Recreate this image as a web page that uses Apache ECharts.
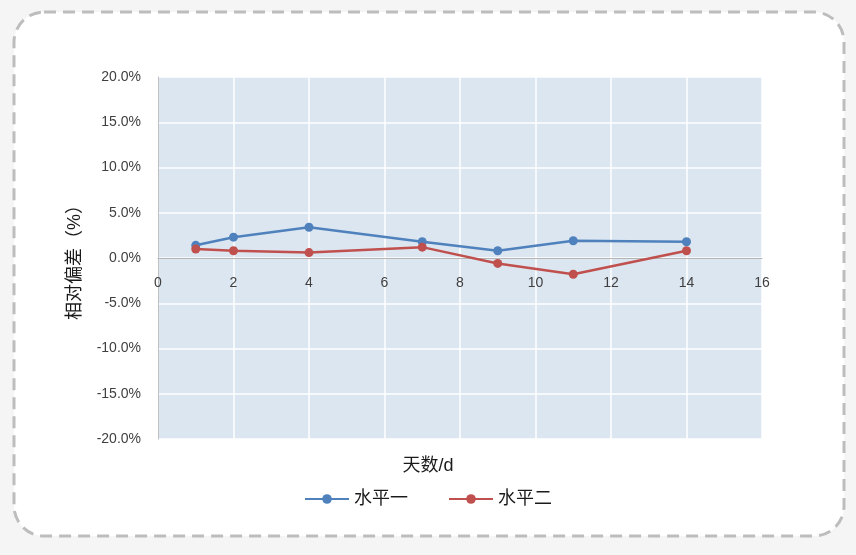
<!DOCTYPE html>
<html><head><meta charset="utf-8">
<script src="https://cdn.jsdelivr.net/npm/echarts@6/dist/echarts.min.js"></script>
<style>html,body{margin:0;padding:0;background:#f5f5f5;}#c{width:856px;height:555px;}</style>
</head><body><div id="c"></div>
<script>
const days = [1, 2, 4, 7, 9, 11, 14];
const level1 = [1.4, 2.3, 3.4, 1.8, 0.8, 1.9, 1.8];
const level2 = [1.0, 0.8, 0.6, 1.2, -0.6, -1.8, 0.8];
const seriesNames = ['水平一', '水平二'];
const xName = '天数/d';
const yName = '相对偏差（%）';

const chart = echarts.init(document.getElementById('c'));
const font = 'Liberation Sans, Arial, "Noto Sans CJK SC", sans-serif';
chart.setOption({
  animation: false,
  textStyle: {fontFamily: font},
  graphic: [{
    type: 'rect', z: -10, silent: true,
    shape: {x: 14, y: 12, width: 830, height: 524, r: 30},
    style: {fill: '#ffffff', stroke: '#bdbdbd', lineWidth: 3, lineDash: [12, 7]}
  }],
  title: {
    text: xName, left: 'center', top: 452,
    textStyle: {fontSize: 18, fontWeight: 'normal', color: '#1a1a1a', fontFamily: font}
  },
  legend: {
    data: seriesNames, left: 'center', top: 485, itemWidth: 44, itemHeight: 12, itemGap: 40,
    textStyle: {fontSize: 18, color: '#1a1a1a'}
  },
  grid: {left: 158, right: 94, top: 77, bottom: 116, backgroundColor: '#dce6f1', show: true, borderWidth: 0},
  xAxis: {
    type: 'value', min: 0, max: 16, interval: 2,
    position: 'bottom', offset: -181,
    axisLine: {onZero: false, lineStyle: {color: '#b4b4b4', width: 1}},
    axisTick: {show: false},
    axisLabel: {fontSize: 14, color: '#404040', margin: 18},
    splitLine: {show: true, lineStyle: {color: '#ffffff', width: 1.5}}
  },
  yAxis: {
    type: 'value', min: -20, max: 20, interval: 5,
    name: yName, nameLocation: 'middle', nameGap: 74, nameRotate: 90,
    nameTextStyle: {fontSize: 18, color: '#1a1a1a'},
    axisLine: {show: true, lineStyle: {color: '#c0c0c0'}},
    axisTick: {show: false},
    axisLabel: {fontSize: 14, color: '#404040', margin: 17, formatter: v => v.toFixed(1) + '%'},
    splitLine: {show: true, lineStyle: {color: '#ffffff', width: 1.5}}
  },
  series: [
    {name: seriesNames[0], type: 'line', data: days.map((d, i) => [d, level1[i]]),
     symbol: 'circle', symbolSize: 9, lineStyle: {width: 2.5, color: '#4f81bd'}, itemStyle: {color: '#4f81bd'}},
    {name: seriesNames[1], type: 'line', data: days.map((d, i) => [d, level2[i]]),
     symbol: 'circle', symbolSize: 9, lineStyle: {width: 2.5, color: '#c0504d'}, itemStyle: {color: '#c0504d'}}
  ]
});
</script></body></html>
